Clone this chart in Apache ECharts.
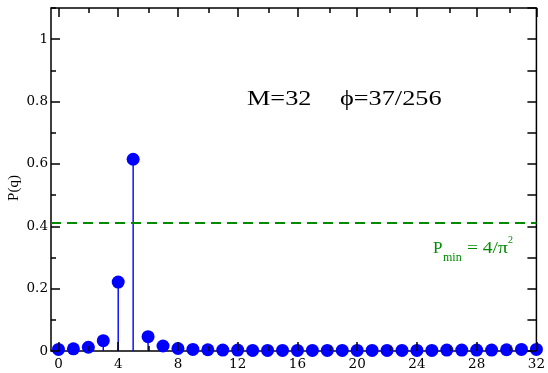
<!DOCTYPE html>
<html><head><meta charset="utf-8">
<script src="https://cdn.jsdelivr.net/npm/echarts@6/dist/echarts.min.js"></script>
<style>html,body{margin:0;padding:0;background:#fff}#c{width:548px;height:373px}</style>
</head><body><div id="c"></div>
<script>
const qValues = [0,1,2,3,4,5,6,7,8,9,10,11,12,13,14,15,16,17,18,19,20,21,22,23,24,25,26,27,28,29,30,31,32];
const pValues = [0.005,0.007,0.012,0.033,0.221,0.615,0.046,0.016,0.008,0.005,0.004,0.003,0.003,0.002,0.002,0.002,0.002,0.002,0.002,0.002,0.002,0.002,0.002,0.002,0.002,0.002,0.003,0.003,0.003,0.003,0.004,0.005,0.005];
const xMajorTicks = [0,4,8,12,16,20,24,28,32];
const xMinorTicks = [2,6,10,14,18,22,26,30];
const yMajorTicks = [0,0.2,0.4,0.6,0.8,1];
const yMinorTicks = [0.1,0.3,0.5,0.7,0.9,1.1];
const yRightTicks = [0,0.1,0.2,0.3,0.4,0.5,0.6,0.7,0.8,0.9,1,1.1];
const pMin = 4/(Math.PI*Math.PI);

const pts = qValues.map((q,i)=>[q,pValues[i]]);
const FONT = 'Liberation Serif';
const LFONT = 'DejaVu Serif';
const gridRect = {left:51, right:8, top:8, bottom:22};
const tickStyle = {color:'#000', width:1.5};
function xAx(grid, pos, ticks, len, labels){
  return {type:'value', gridIndex:grid, position:pos, min:-0.5, max:32, z:10,
    axisLine:{show:false, onZero:false}, splitLine:{show:false},
    axisTick:{show:true, inside:true, length:len, customValues:ticks, lineStyle:tickStyle},
    axisLabel:{show:labels, customValues:ticks, color:'#000', fontFamily:LFONT, fontSize:13.5, margin:6}};
}
function yAx(grid, pos, ticks, len, labels){
  return {type:'value', gridIndex:grid, position:pos, min:0, max:1.1, z:10,
    axisLine:{show:false, onZero:false}, splitLine:{show:false},
    axisTick:{show:true, inside:true, length:len, customValues:ticks, lineStyle:tickStyle},
    axisLabel:{show:labels, customValues:ticks, color:'#000', fontFamily:LFONT, fontSize:13.5, margin:3}};
}
const chart = echarts.init(document.getElementById('c'));
chart.setOption({
  animation:false,
  grid:[
    Object.assign({show:true, borderColor:'#000', borderWidth:1.5, backgroundColor:'transparent'}, gridRect),
    Object.assign({show:false}, gridRect)
  ],
  xAxis:[
    xAx(0,'bottom',xMajorTicks,9,true),
    xAx(0,'top',xMajorTicks,9,false),
    xAx(1,'bottom',xMinorTicks,5,false),
    xAx(1,'top',xMinorTicks,5,false)
  ],
  yAxis:[
    yAx(0,'left',yMajorTicks,9,true),
    yAx(0,'right',yRightTicks,9,false),
    yAx(1,'left',yMinorTicks,5,false),
    yAx(1,'right',[],5,false)
  ],
  series:[
    {type:'bar', xAxisIndex:0, yAxisIndex:0, data:pts, barWidth:1.4, itemStyle:{color:'#0000ff'}, z:2,
      markLine:{silent:true, symbol:['none','none'], label:{show:false},
        lineStyle:{color:'#008b00', width:2, type:[10,6]}, data:[{yAxis:pMin}]}},
    {type:'scatter', xAxisIndex:0, yAxisIndex:0, data:pts, symbol:'circle', symbolSize:13,
      itemStyle:{color:'#0000ff', opacity:1}, z:3}
  ],
  graphic:[
    {type:'text', x:14, y:188, rotation:Math.PI/2, style:{text:'P(q)', font:'15px '+FONT, fill:'#000', align:'center', verticalAlign:'middle'}},
    {type:'text', x:247, y:99, scaleX:1.25, style:{text:'M=32', font:'21px '+FONT, fill:'#000', align:'left', verticalAlign:'middle'}},
    {type:'text', x:340, y:99, scaleX:1.25, style:{text:'ϕ=37/256', font:'21px '+FONT, fill:'#000', align:'left', verticalAlign:'middle'}},
    {type:'text', x:433, y:249, style:{text:'P', font:'17px '+FONT, fill:'#008b00', align:'left', verticalAlign:'middle'}},
    {type:'text', x:443, y:258, style:{text:'min', font:'12px '+FONT, fill:'#008b00', align:'left', verticalAlign:'middle'}},
    {type:'text', x:462, y:249, scaleX:1.15, style:{text:' = 4/π', font:'17px '+FONT, fill:'#008b00', align:'left', verticalAlign:'middle'}},
    {type:'text', x:508, y:240, style:{text:'2', font:'10px '+FONT, fill:'#008b00', align:'left', verticalAlign:'middle'}}
  ]
});
</script></body></html>
